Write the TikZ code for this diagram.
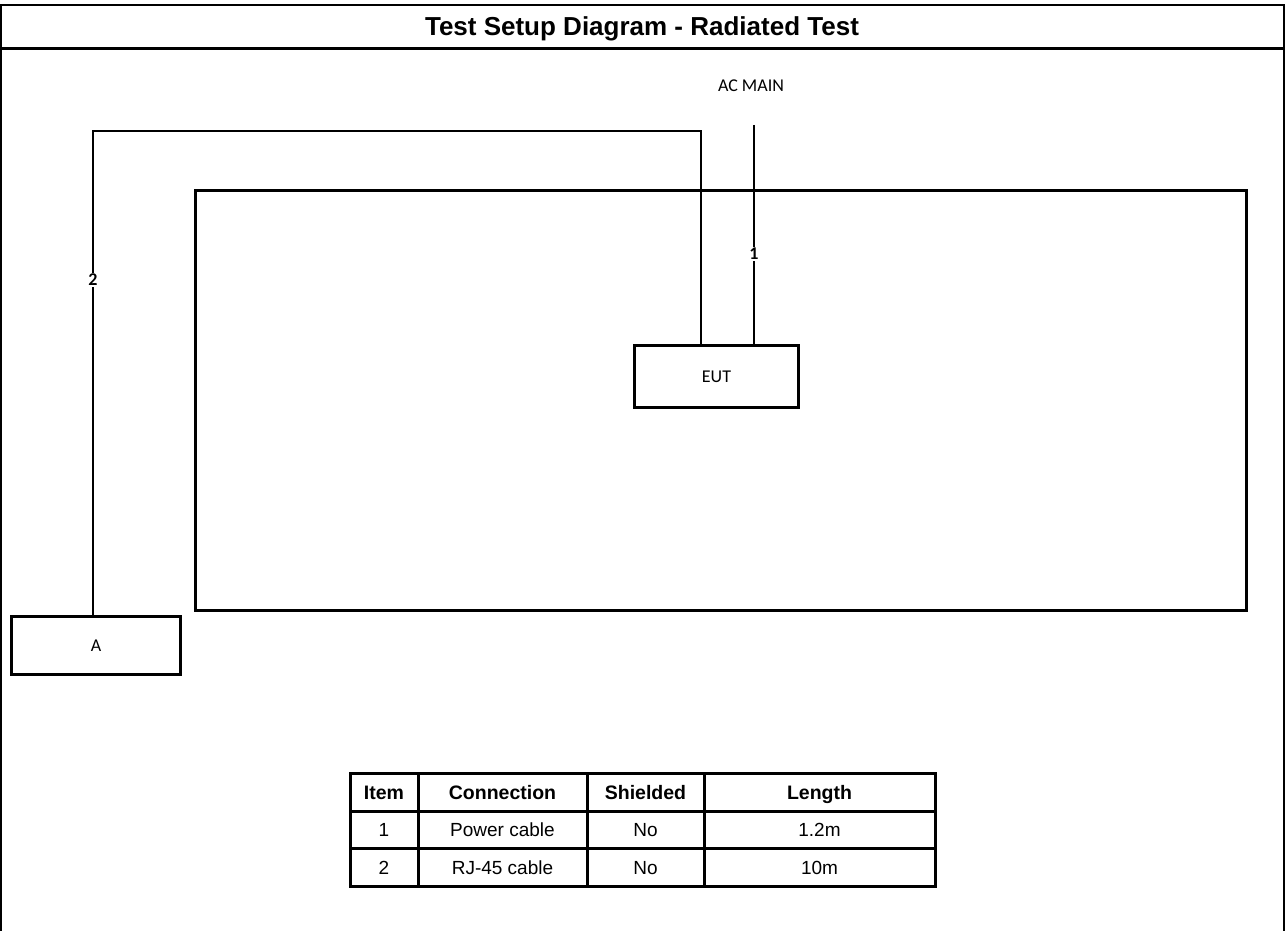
\documentclass[tikz,border=0pt]{standalone}
\usepackage{fontspec}
\setmainfont{Liberation Sans}
\newfontfamily\calib{Carlito}
\begin{document}
\begin{tikzpicture}[x=1pt,y=-1pt,
  thick line/.style={line width=3pt},
  cable/.style={line width=2pt},
  box/.style={draw,line width=3pt,inner sep=0pt,anchor=north west},
  lbl/.style={font=\calib\fontsize{18}{21}\selectfont},
  cablelbl/.style={font=\calib\bfseries\fontsize{18}{21}\selectfont,fill=white,inner sep=1pt},
  cell/.style={font=\fontsize{19}{22}\selectfont,anchor=base},
  hcell/.style={font=\bfseries\fontsize{19.5}{22}\selectfont,anchor=base}]
\useasboundingbox (0,0) rectangle (1285,931);
\begin{scope}
\clip (0,0) rectangle (1285,931);
\draw[line width=2.5pt] (1,5) rectangle (1284,960);
\end{scope}
\draw[thick line] (0,48.5) -- (1285,48.5);
\node[font=\bfseries\fontsize{26}{30}\selectfont,anchor=base] (title) at (642,36) {Test Setup Diagram - Radiated Test};
% room
\draw[thick line] (195,190) rectangle (1246,610);
% EUT
\node[box,minimum width=164pt,minimum height=62pt] (eut) at (633,344) {};
\node[lbl] (eutt) at (eut.center) {EUT};
% A
\node[box,minimum width=169pt,minimum height=58pt] (a) at (10,615) {};
\node[lbl] (at) at (a.center) {A};
% AC main
\node[lbl] (ac) at (751,86) {AC MAIN};
\coordinate (acend) at (754,125);
\coordinate (eut1) at (754,344);
\draw[cable] (acend) -- (eut1);
\node[cablelbl] (l1) at (754,254) {1};
% cable 2
\coordinate (a2) at (93,615);
\coordinate (eut2) at (701,344);
\draw[cable] (a2) |- (701,131) -- (eut2);
\node[cablelbl] (l2) at (93,280) {2};
% table
\def\xa{350}\def\xb{418}\def\xc{587}\def\xd{704}\def\xe{935}
\def\ya{773}\def\yb{811}\def\yc{848}\def\yd{886}
\draw[thick line] (\xa,\ya) rectangle (\xe,\yd);
\draw[thick line] (\xa,\yb) -- (\xe,\yb);
\draw[thick line] (\xa,\yc) -- (\xe,\yc);
\draw[thick line] (\xb,\ya) -- (\xb,\yd);
\draw[thick line] (\xc,\ya) -- (\xc,\yd);
\draw[thick line] (\xd,\ya) -- (\xd,\yd);
\node[hcell] (h1) at (384,799) {Item};
\node[hcell] (h2) at (502.5,799) {Connection};
\node[hcell] (h3) at (645.5,799) {Shielded};
\node[hcell] (h4) at (819.5,799) {Length};
\node[cell] (r11) at (384,836.5) {1};
\node[cell] (r12) at (502.5,836.5) {Power cable};
\node[cell] (r13) at (645.5,836.5) {No};
\node[cell] (r14) at (819.5,836.5) {1.2m};
\node[cell] (r21) at (384,874) {2};
\node[cell] (r22) at (502.5,874) {RJ-45 cable};
\node[cell] (r23) at (645.5,874) {No};
\node[cell] (r24) at (819.5,874) {10m};
\end{tikzpicture}
\end{document}
